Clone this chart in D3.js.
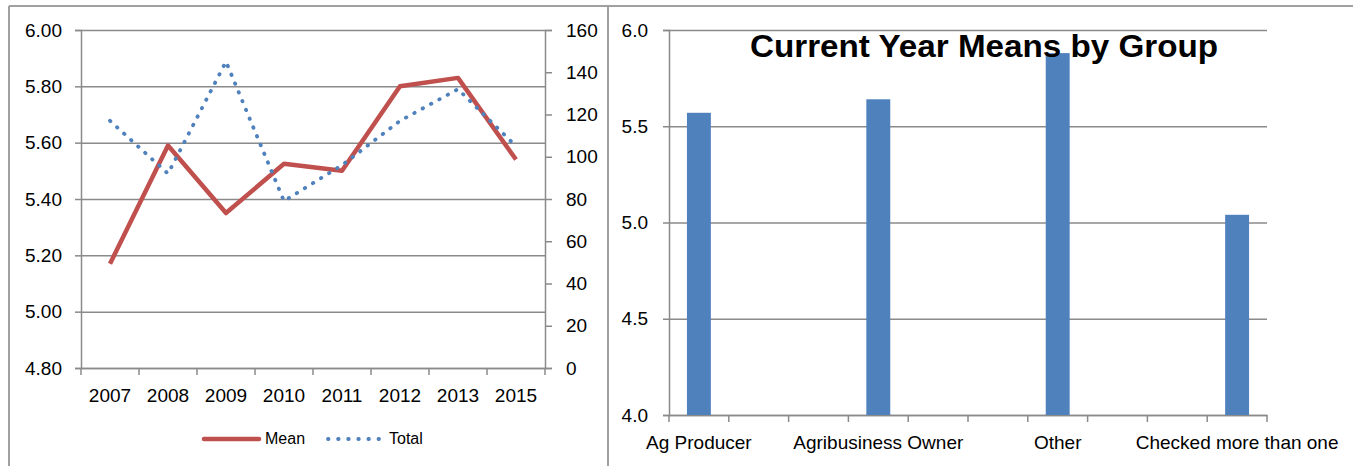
<!DOCTYPE html>
<html>
<head>
<meta charset="utf-8">
<script src="https://cdn.jsdelivr.net/npm/d3@7"></script>
<style>
  body { margin: 0; background: #fff; }
  text { font-family: "Liberation Sans", Arial, sans-serif; fill: #000; }
  .grid line { stroke: #8a8a8a; stroke-width: 1.5; }
  .grid path { display: none; }
  .axis path, .axis line { stroke: #8a8a8a; stroke-width: 1.5; }
</style>
</head>
<body>
<div id="chart-area"></div>
<script>
// left chart data
var years = ["2007", "2008", "2009", "2010", "2011", "2012", "2013", "2015"];
var meanValues = [5.17, 5.59, 5.35, 5.525, 5.50, 5.80, 5.83, 5.54];
var totalValues = [117, 92, 145, 79, 96, 117, 132, 105];
var meanTicks = [4.8, 5.0, 5.2, 5.4, 5.6, 5.8, 6.0];
var totalTicks = [0, 20, 40, 60, 80, 100, 120, 140, 160];
var seriesNames = ["Mean", "Total"];

// right chart data (labels shown every third category)
var groups = ["Ag Producer", "", "", "Agribusiness Owner", "", "", "Other", "", "", "Checked more than one"];
var groupMeans = [5.57, null, null, 5.64, null, null, 5.88, null, null, 5.04];
var groupTicks = [4.0, 4.5, 5.0, 5.5, 6.0];
var barTitle = "Current Year Means by Group";

var red = "#c0504d", blue = "#4f81bd";

var svg = d3.select("#chart-area")
  .append("svg")
    .attr("width", 1353)
    .attr("height", 466);

// frame
svg.append("line").attr("x1", 9).attr("x2", 1353).attr("y1", 6).attr("y2", 6)
  .attr("stroke", "#a0a0a0").attr("stroke-width", 2);
svg.append("line").attr("x1", 9).attr("x2", 9).attr("y1", 6).attr("y2", 466)
  .attr("stroke", "#a0a0a0").attr("stroke-width", 2);
svg.append("line").attr("x1", 608).attr("x2", 608).attr("y1", 6).attr("y2", 466)
  .attr("stroke", "#a0a0a0").attr("stroke-width", 2);

// ---------- left: line chart ----------
var L = { left: 81, right: 545, top: 30, bottom: 368 };

var x = d3.scaleBand().domain(years).range([L.left, L.right]);
var y = d3.scaleLinear().domain([4.8, 6.0]).range([L.bottom, L.top]);
var y2 = d3.scaleLinear().domain([0, 160]).range([L.bottom, L.top]);

svg.append("g")
  .attr("class", "grid")
  .attr("transform", "translate(" + L.left + ",0)")
  .call(d3.axisLeft(y).tickValues(meanTicks).tickSize(-(L.right - L.left)).tickFormat(""));

var yAxis = svg.append("g")
  .attr("class", "axis")
  .attr("transform", "translate(" + L.left + ",0)")
  .call(d3.axisLeft(y).tickValues(meanTicks).tickSizeOuter(0).tickSize(6).tickPadding(13)
    .tickFormat(d3.format(".2f")));

var y2Axis = svg.append("g")
  .attr("class", "axis")
  .attr("transform", "translate(" + L.right + ",0)")
  .call(d3.axisRight(y2).tickValues(totalTicks).tickSizeOuter(0).tickSize(7).tickPadding(14));

var xAxis = svg.append("g")
  .attr("class", "axis")
  .attr("transform", "translate(0," + L.bottom + ")")
  .call(d3.axisBottom(x).tickSize(0).tickPadding(21));

// category boundary ticks
svg.append("g")
  .selectAll("line")
  .data(d3.range(years.length + 1))
  .enter().append("line")
    .attr("x1", function(i) { return L.left + i * x.step(); })
    .attr("x2", function(i) { return L.left + i * x.step(); })
    .attr("y1", L.bottom)
    .attr("y2", L.bottom + 7)
    .attr("stroke", "#8a8a8a")
    .attr("stroke-width", 1.5);

svg.selectAll(".axis text").attr("font-size", "19px").attr("font-family", "Liberation Sans, Arial, sans-serif");

var meanLine = d3.line()
  .x(function(d, i) { return x(years[i]) + x.bandwidth() / 2; })
  .y(function(d) { return y(d); });

var totalLine = d3.line()
  .x(function(d, i) { return x(years[i]) + x.bandwidth() / 2; })
  .y(function(d) { return y2(d); });

svg.append("path")
  .datum(meanValues)
  .attr("d", meanLine)
  .attr("fill", "none")
  .attr("stroke", red)
  .attr("stroke-width", 4.5)
  .attr("stroke-linejoin", "round");

svg.append("path")
  .datum(totalValues)
  .attr("d", totalLine)
  .attr("fill", "none")
  .attr("stroke", blue)
  .attr("stroke-width", 3.8)
  .attr("stroke-linecap", "round")
  .attr("stroke-dasharray", "0.5 9");

// legend
var legend = svg.append("g");
legend.append("line")
  .attr("x1", 204).attr("x2", 259).attr("y1", 439).attr("y2", 439)
  .attr("stroke", red).attr("stroke-width", 4.5).attr("stroke-linecap", "round");
legend.append("text").attr("x", 265).attr("y", 444).attr("font-size", "16px").text(seriesNames[0]);
legend.append("line")
  .attr("x1", 328).attr("x2", 379).attr("y1", 439).attr("y2", 439)
  .attr("stroke", blue).attr("stroke-width", 3.8).attr("stroke-linecap", "round")
  .attr("stroke-dasharray", "0.5 9.6");
legend.append("text").attr("x", 389).attr("y", 444).attr("font-size", "16px").text(seriesNames[1]);

// ---------- right: bar chart ----------
var R = { left: 669, right: 1267, top: 30, bottom: 415 };

var xb = d3.scaleBand().domain(d3.range(groups.length)).range([R.left, R.right]).paddingInner(0);
var yb = d3.scaleLinear().domain([4.0, 6.0]).range([R.bottom, R.top]);

svg.append("g")
  .attr("class", "grid")
  .attr("transform", "translate(" + R.left + ",0)")
  .call(d3.axisLeft(yb).tickValues(groupTicks).tickSize(-(R.right - R.left)).tickFormat(""));

svg.append("g")
  .attr("class", "axis")
  .attr("transform", "translate(" + R.left + ",0)")
  .call(d3.axisLeft(yb).tickValues(groupTicks).tickSizeOuter(0).tickSize(6).tickPadding(15)
    .tickFormat(d3.format(".1f")));

svg.append("g")
  .attr("class", "axis")
  .attr("transform", "translate(0," + R.bottom + ")")
  .call(d3.axisBottom(xb).tickSize(0).tickPadding(21)
    .tickFormat(function(i) { return groups[i]; }));

svg.append("g")
  .selectAll("line")
  .data(d3.range(groups.length + 1))
  .enter().append("line")
    .attr("x1", function(i) { return R.left + i * xb.step(); })
    .attr("x2", function(i) { return R.left + i * xb.step(); })
    .attr("y1", R.bottom)
    .attr("y2", R.bottom + 7)
    .attr("stroke", "#8a8a8a")
    .attr("stroke-width", 1.5);

svg.selectAll(".axis text").attr("font-size", "19px").attr("font-family", "Liberation Sans, Arial, sans-serif");

var barW = xb.bandwidth() * 0.4;
svg.append("g")
  .selectAll("rect")
  .data(groupMeans.map(function(v, i) { return { i: i, v: v }; })
    .filter(function(d) { return d.v !== null; }))
  .enter().append("rect")
    .attr("x", function(d) { return xb(d.i) + (xb.bandwidth() - barW) / 2; })
    .attr("width", barW)
    .attr("y", function(d) { return yb(d.v); })
    .attr("height", function(d) { return R.bottom - yb(d.v); })
    .attr("fill", blue);

// title sits over the bars
svg.append("text")
  .attr("x", 984)
  .attr("y", 57)
  .attr("text-anchor", "middle")
  .attr("font-size", "31px")
  .attr("font-weight", "bold")
  .attr("textLength", 468)
  .attr("lengthAdjust", "spacingAndGlyphs")
  .text(barTitle);
</script>
</body>
</html>
